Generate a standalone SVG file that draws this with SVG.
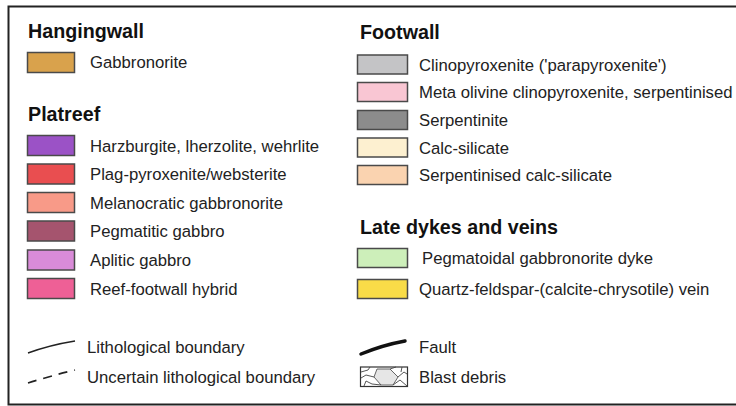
<svg xmlns="http://www.w3.org/2000/svg" width="736" height="406" viewBox="0 0 736 406">
<style>
.h{font-family:"Liberation Sans",Arial,sans-serif;font-weight:bold;font-size:19.7px;fill:#111}
.t{font-family:"Liberation Sans",Arial,sans-serif;font-size:16.7px;fill:#222}
.sw{stroke:#4a4a4a;stroke-width:1.5}
</style>
<rect width="736" height="406" fill="#fff"/>
<path d="M740,6.5 H8.5 V404.5 H740" fill="none" stroke="#222" stroke-width="2"/>
<g id="hangingwall">
<text class="h" x="28" y="38">Hangingwall</text>
<g id="gabbronorite"><rect class="sw" x="27.5" y="52.5" width="47" height="20" fill="#D9A24C"/><text class="t" x="90" y="68">Gabbronorite</text></g>
</g>
<g id="platreef">
<text class="h" x="28" y="121">Platreef</text>
<g id="harzburgite"><rect class="sw" x="27.5" y="135.5" width="47" height="20" fill="#9B52C6"/><text class="t" x="90" y="151.5">Harzburgite, lherzolite, wehrlite</text></g>
<g id="plag"><rect class="sw" x="27.5" y="164" width="47" height="20" fill="#E94E50"/><text class="t" x="90" y="180">Plag-pyroxenite/websterite</text></g>
<g id="melanocratic"><rect class="sw" x="27.5" y="192.5" width="47" height="20" fill="#F89A88"/><text class="t" x="90" y="208.5">Melanocratic gabbronorite</text></g>
<g id="pegmatitic"><rect class="sw" x="27.5" y="221" width="47" height="20" fill="#A5546E"/><text class="t" x="90" y="237">Pegmatitic gabbro</text></g>
<g id="aplitic"><rect class="sw" x="27.5" y="250" width="47" height="20" fill="#D98BD8"/><text class="t" x="90" y="266">Aplitic gabbro</text></g>
<g id="reef-footwall"><rect class="sw" x="27.5" y="278.5" width="47" height="20" fill="#EE6096"/><text class="t" x="90" y="294.5">Reef-footwall hybrid</text></g>
</g>
<g id="footwall">
<text class="h" x="360" y="39">Footwall</text>
<g id="clinopyroxenite"><rect class="sw" x="357.5" y="55" width="50" height="19" fill="#C4C4C6"/><text class="t" x="419" y="70.5">Clinopyroxenite ('parapyroxenite')</text></g>
<g id="meta-olivine"><rect class="sw" x="357.5" y="82.5" width="50" height="19" fill="#F9C6D3"/><text class="t" x="419" y="98">Meta olivine clinopyroxenite, serpentinised</text></g>
<g id="serpentinite"><rect class="sw" x="357.5" y="110.5" width="50" height="19" fill="#8C8C8C"/><text class="t" x="419" y="126">Serpentinite</text></g>
<g id="calc-silicate"><rect class="sw" x="357.5" y="138" width="50" height="19" fill="#FDF0D0"/><text class="t" x="419" y="153.5">Calc-silicate</text></g>
<g id="serp-calc"><rect class="sw" x="357.5" y="165.5" width="50" height="19" fill="#FAD3B0"/><text class="t" x="419" y="181">Serpentinised calc-silicate</text></g>
</g>
<g id="late-dykes">
<text class="h" x="360" y="234">Late dykes and veins</text>
<g id="pegmatoidal"><rect class="sw" x="357.5" y="248.5" width="50" height="19" fill="#CDEFBA"/><text class="t" x="422" y="264">Pegmatoidal gabbronorite dyke</text></g>
<g id="quartz"><rect class="sw" x="357.5" y="279.5" width="50" height="19" fill="#F9DC48"/><text class="t" x="419" y="295">Quartz-feldspar-(calcite-chrysotile) vein</text></g>
</g>
<g id="connectors">
<g id="litho"><path d="M28,353 Q50,345 75,341" fill="none" stroke="#222" stroke-width="1.4"/><text class="t" x="87" y="353">Lithological boundary</text></g>
<g id="uncertain"><path d="M28,383 Q50,376 75,370" fill="none" stroke="#222" stroke-width="1.6" stroke-dasharray="9,7"/><text class="t" x="87" y="383">Uncertain lithological boundary</text></g>
<g id="fault"><path d="M361,354 Q383,345 405,341" fill="none" stroke="#111" stroke-width="3.5" stroke-linecap="round"/><text class="t" x="419" y="353">Fault</text></g>
<g id="blast"><rect x="360.5" y="367" width="47" height="19.5" fill="#fff" stroke="#333" stroke-width="1.2"/>
<path d="M377,369 L390,369 L398,377 L393,385 L381,385 L374,377 Z" fill="#e6e6e6" stroke="#555" stroke-width="0.9"/>
<path d="M361,372 L368,370 L370,367 M361,378 L366,375 L374,377 M364,386 L366,381 L372,384 L381,385 M390,369 L396,367 M398,377 L404,372 L407,374 M393,385 L400,380 L407,386 M402,367 L401,372" fill="none" stroke="#444" stroke-width="0.9"/>
<text class="t" x="419" y="383">Blast debris</text></g>
</g>
</svg>
